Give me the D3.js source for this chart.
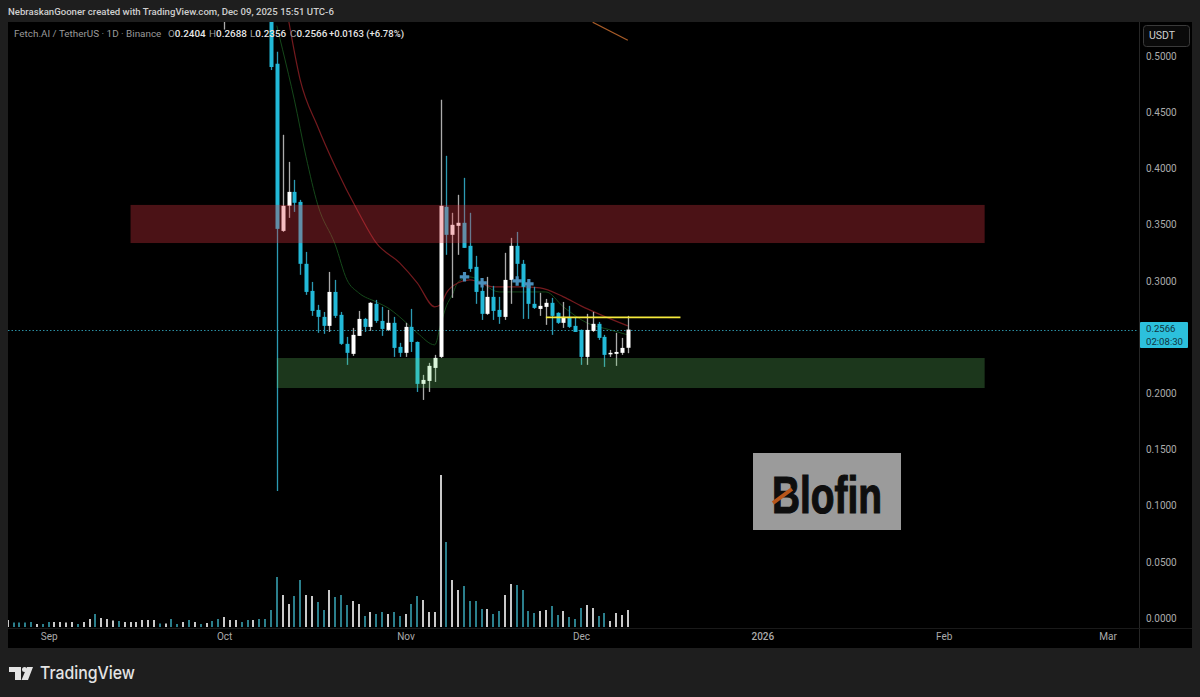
<!DOCTYPE html>
<html><head><meta charset="utf-8">
<script src="https://cdn.jsdelivr.net/npm/d3@7"></script>
<style>html,body{margin:0;padding:0;background:#1e1e1e;overflow:hidden}svg{display:block}text{font-family:Roboto,"Open Sans",sans-serif}</style>
</head><body><div id="c"></div>
<script>
// --- data ---
const firstDay = "2025-08-25";
const candleDays = [37,45,46,47,48,49,50,51,52,53,54,55,56,57,58,59,60,61,62,63,64,65,66,67,68,69,70,71,72,73,74,75,76,77,78,79,80,81,82,83,84,85,86,87,88,89,90,91,92,93,94,95,96,97,98,99,100,101,102,103,104,105,106];
const opens = [.5900,.6200,.4931,.3444,.3667,.3791,.3702,.3151,.2910,.2741,.2679,.2599,.2901,.2697,.2439,.2350,.2510,.2661,.2590,.2795,.2643,.2563,.2626,.2412,.2359,.2590,.2456,.2083,.2109,.2225,.2323,.3658,.3409,.3489,.3516,.3311,.3124,.2910,.2706,.2857,.2741,.2679,.3008,.3311,.3151,.2964,.2795,.2750,.2768,.2804,.2715,.2626,.2679,.2599,.2563,.2323,.2554,.2617,.2501,.2350,.2350,.2359,.2404];
const highs = [.6200,.6400,.5037,.4299,.4058,.3898,.3720,.3257,.2990,.2786,.2723,.3079,.3008,.2723,.2501,.2581,.2732,.2670,.2810,.2830,.2768,.2741,.2679,.2448,.2626,.2750,.2460,.2163,.2270,.2341,.4610,.4112,.3605,.3765,.3916,.3605,.3222,.3008,.3035,.2955,.2857,.3249,.3382,.3435,.3186,.3008,.2946,.2893,.2839,.2848,.2720,.2812,.2777,.2670,.2567,.2706,.2723,.2634,.2519,.2385,.2537,.2492,.2688];
const lows = [.5235,.4875,.1130,.3435,.3560,.3613,.3053,.2875,.2688,.2537,.2528,.2545,.2670,.2430,.2252,.2332,.2510,.2545,.2554,.2626,.2510,.2554,.2323,.2323,.2323,.2367,.2011,.1940,.2011,.2100,.2314,.3231,.2848,.3231,.3293,.3079,.2795,.2652,.2697,.2652,.2617,.2652,.2795,.2982,.2661,.2661,.2750,.2688,.2608,.2519,.2617,.2581,.2581,.2545,.2252,.2252,.2545,.2474,.2234,.2323,.2243,.2341,.2356];
const closes = [.6000,.4902,.3462,.3667,.3791,.3694,.3151,.2901,.2732,.2679,.2599,.2901,.2688,.2439,.2359,.2519,.2661,.2590,.2804,.2643,.2572,.2626,.2403,.2359,.2590,.2456,.2083,.2118,.2243,.2314,.3667,.3409,.3498,.3516,.3293,.3106,.2901,.2706,.2857,.2732,.2679,.3008,.3311,.3151,.2946,.2795,.2759,.2777,.2804,.2688,.2626,.2679,.2590,.2545,.2323,.2563,.2617,.2492,.2341,.2359,.2367,.2403,.2566];
const volumes = [7,4.5,4.5,4.5,5,3,3,5,5,5,4.5,5,3,5,8,13,9,8,6.5,6,5,5,5,7,7,7,3.5,3.5,8,3,5,7,5,3,4,6,8,10,7,7,5,7,7,8,8,17,50,32,23,31,47,32,31,25,17,37,30,32,22,26,23,11,15,13,15,13,15,11,13,23,31,27,15,15,152,85,47,37,41,26,26,18,18,13,16,32,43,42,37,16,14,16,17,21,12,16,10,8,19,22,19,11,14,6,14,12,17];
const volumeUp = [1,0,0,0,0,1,0,0,1,1,1,1,0,1,1,0,1,1,1,0,1,1,1,1,1,1,0,1,0,0,1,0,1,0,1,0,0,1,1,1,0,0,1,0,0,0,0,1,1,0,0,1,1,0,0,1,0,0,0,1,1,0,1,0,0,1,0,0,1,0,0,1,1,1,1,0,1,1,0,0,0,0,1,0,0,1,1,0,0,0,0,1,1,0,0,1,0,0,0,1,1,0,0,1,1,1,1];
const emaFastDays = [46,47,49,51,53,56,58,60,63,65,67,70,73,74,75,76,77,79,84,92,95,99,103,106];
const emaFast = [.5270,.5055,.4610,.4103,.3676,.3320,.3008,.2893,.2812,.2759,.2679,.2537,.2430,.2608,.2777,.2875,.2990,.3035,.2901,.2901,.2768,.2626,.2563,.2519];
const emaSlowDays = [48,50,53,56,60,63,67,70,73,74,75,77,79,83,88,91,95,98,101,106];
const emaSlow = [.5322,.4788,.4370,.4014,.3605,.3337,.3160,.2982,.2768,.2786,.2893,.2982,.3008,.2946,.2946,.2937,.2857,.2777,.2706,.2599];
const emaLongDays = [100,106];
const emaLong = [.5300,.5140];
const plusDays = [78,81,87,89];
const plusPrices = [.3035,.2982,.2999,.2973];
const resistanceZone = {from:21,to:167,top:.3675,bottom:.3336};
const supportZone = {from:46,to:167,top:.2313,bottom:.2046};
const yellowLevel = {from:92,to:115,price:.2675};
const lastPrice = .2566;
const priceTicks = [0,.05,.1,.15,.2,.3,.35,.4,.45,.5];
const timeTicks = ["2025-09-01","2025-10-01","2025-11-01","2025-12-01","2026-01-01","2026-02-01","2026-03-01"];
const timeLabels = ["Sep","Oct","Nov","Dec","2026","Feb","Mar"];
const legendParts = [["O","0.2404",168],["H","0.2688",209],["L","0.2356",250],["C","0.2566",290]];

// --- scales ---
const W=1200,H=697,L=8,R=1138,T=22,B=628;
const parse=d3.utcParse("%Y-%m-%d");
const d0=parse(firstDay);
const dayDate=i=>d3.utcDay.offset(d0,i);
const x=d3.scaleUtc().domain([d0,dayDate(106)]).range([7.7,627.8]);
const X=i=>x(dayDate(i));
const y=d3.scaleLinear().domain([0,.5]).range([618,56]);
const v=d3.scaleLinear().domain([0,152]).range([627,475]);

const svg=d3.select("#c").append("svg").attr("width",W).attr("height",H);
svg.append("rect").attr("width",W).attr("height",H).attr("fill","#1e1e1e");
svg.append("rect").attr("x",L).attr("y",T).attr("width",1192-L).attr("height",648-T).attr("fill","#000");
svg.append("line").attr("x1",R+1.5).attr("x2",R+1.5).attr("y1",T).attr("y2",648).attr("stroke","#262626");
svg.append("line").attr("x1",L).attr("x2",1192).attr("y1",B+.5).attr("y2",B+.5).attr("stroke","#1a1a1a");

const defs=svg.append("defs");
defs.append("clipPath").attr("id","pane").append("rect").attr("x",L).attr("y",T).attr("width",R-L).attr("height",B-T);
const g=svg.append("g").attr("clip-path","url(#pane)");

// volume
g.append("g").selectAll("rect").data(volumes).join("rect")
 .attr("x",(d,i)=>Math.round(X(i))-1).attr("width",2)
 .attr("y",d=>v(d)).attr("height",d=>v(0)-v(d))
 .attr("fill",(d,i)=>volumeUp[i]?"#c9c9c9":"#2b7f8c");

// moving averages
const lineFor=(days,vals,col,w)=>g.append("path")
 .attr("d",d3.line().x((d,i)=>X(days[i])).y(d=>y(d)).curve(d3.curveMonotoneX)(vals))
 .attr("fill","none").attr("stroke",col).attr("stroke-width",w);
lineFor(emaFastDays,emaFast,"#15481a",1);
lineFor(emaSlowDays,emaSlow,"#741a1e",1.2);
lineFor(emaLongDays,emaLong,"#a85c28",1.3);

// dotted last price
g.append("line").attr("x1",L).attr("x2",R).attr("y1",Math.round(y(lastPrice))+.5).attr("y2",Math.round(y(lastPrice))+.5)
 .attr("stroke","#2a8ea3").attr("stroke-dasharray","1.5 2");

// candles
const cg=g.append("g");
candleDays.forEach((day,i)=>{
 const up=closes[i]>=opens[i];
 const cx=Math.round(X(day));
 cg.append("line").attr("x1",cx+.5).attr("x2",cx+.5).attr("y1",y(highs[i])).attr("y2",y(lows[i]))
  .attr("stroke",up?"#ababab":"#2c9ab3").attr("stroke-width",1.3);
 const t=y(Math.max(opens[i],closes[i])),b=y(Math.min(opens[i],closes[i]));
 cg.append("rect").attr("x",cx-1.5).attr("width",4).attr("y",t).attr("height",Math.max(1.5,b-t))
  .attr("fill",up?"#ffffff":"#22b9d8");
});
// plus markers
g.append("g").selectAll("path").data(plusDays).join("path")
 .attr("d",d3.symbol(d3.symbolCross,50))
 .attr("transform",(d,i)=>`translate(${X(d)+.5},${y(plusPrices[i])})`)
 .attr("fill","#4a8fbb");

// zones drawn over the candles
const zone=(z,col,a)=>g.append("rect").attr("x",X(z.from)).attr("width",X(z.to)-X(z.from))
 .attr("y",y(z.top)).attr("height",y(z.bottom)-y(z.top)).attr("fill",col).attr("fill-opacity",a);
zone(resistanceZone,"#e33742",.33);
zone(supportZone,"#70dc70",.25);

// yellow level
g.append("line").attr("x1",X(yellowLevel.from)).attr("x2",X(yellowLevel.to))
 .attr("y1",y(yellowLevel.price)).attr("y2",y(yellowLevel.price)).attr("stroke","#f5ea3c").attr("stroke-width",1.6);

// Blofin watermark
const bx=svg.append("g");
bx.append("rect").attr("x",753).attr("y",453).attr("width",148).attr("height",77).attr("fill","#9b9b9b");
bx.append("text").attr("x",772).attr("y",513).attr("textLength",110).attr("lengthAdjust","spacingAndGlyphs")
 .style("font-family",'"Liberation Sans Narrow","Liberation Sans",sans-serif').style("font-weight",700)
 .attr("font-size",52).attr("fill","#0e0e0e").attr("stroke","#0e0e0e").attr("stroke-width",1.2).text("Blofin");
bx.append("line").attr("x1",773).attr("y1",503).attr("x2",792).attr("y2",489).attr("stroke","#b8561a").attr("stroke-width",4);

// price axis
const ay=svg.append("g").attr("transform",`translate(${R},0)`)
 .call(d3.axisRight(y).tickValues(priceTicks).tickFormat(d3.format(".4f")).tickSize(0).tickPadding(8));
ay.select(".domain").remove();
ay.selectAll("text").attr("fill","#ababab").attr("font-size",10).style("font-family","Roboto,sans-serif");

// time axis
const ax=svg.append("g").attr("transform",`translate(0,${B})`)
 .call(d3.axisBottom(x).tickValues(timeTicks.map(parse)).tickFormat((d,i)=>timeLabels[i]).tickSize(0).tickPadding(5));
ax.select(".domain").remove();
ax.selectAll("text").attr("fill","#ababab").attr("font-size",10).style("font-family","Roboto,sans-serif")
 .style("font-weight",(d,i)=>timeLabels[i]==="2026"?500:400);

// last price badge
svg.append("rect").attr("x",1140).attr("y",322).attr("width",48).attr("height",26).attr("rx",1).attr("fill","#2cc0dc");
svg.append("text").attr("x",1146).attr("y",332).attr("font-size",9.6).attr("fill","#10333c").text(d3.format(".4f")(lastPrice));
svg.append("text").attr("x",1146).attr("y",345).attr("font-size",9.6).attr("fill","#10333c").text("02:08:30");

// USDT button
svg.append("rect").attr("x",1143.5).attr("y",25.5).attr("width",46).attr("height",21).attr("rx",3).attr("fill","#0a0a0a").attr("stroke","#3a3a3a");
svg.append("text").attr("x",1149).attr("y",39).attr("font-size",10.5).attr("fill","#d0d0d0").text("USDT");

// header & legend
svg.append("text").attr("x",8).attr("y",15).attr("font-size",9.6).style("font-weight",500).attr("fill","#cfcfcf")
 .text("NebraskanGooner created with TradingView.com, Dec 09, 2025 15:51 UTC-6");
svg.append("text").attr("x",14).attr("y",36.5).attr("font-size",9.9).attr("fill","#9a9a9a").text("Fetch.AI / TetherUS · 1D · Binance");
legendParts.forEach(p=>{
 const t=svg.append("text").attr("x",p[2]).attr("y",36.5).attr("font-size",9.9);
 t.append("tspan").attr("fill","#9a9a9a").text(p[0]);
 t.append("tspan").attr("fill","#e6e6e6").style("font-weight",500).text(p[1]);
});
svg.append("text").attr("x",329).attr("y",36.5).attr("font-size",9.5).attr("fill","#e6e6e6").style("font-weight",500).text("+0.0163 (+6.78%)");

// TradingView logo
const lo=svg.append("g").attr("fill","#e4e4e4");
const lp=d3.path();
lp.moveTo(9,667);lp.lineTo(21,667);lp.lineTo(21,680);lp.lineTo(15,680);lp.lineTo(15,672);lp.lineTo(9,672);lp.closePath();
lp.moveTo(27,667);lp.lineTo(33,667);lp.lineTo(28,680);lp.lineTo(21.5,680);lp.closePath();
lo.append("path").attr("d",lp.toString());
lo.append("circle").attr("cx",24.5).attr("cy",669.5).attr("r",2.5);
svg.append("text").attr("x",40).attr("y",679).attr("font-size",17.5).style("font-family","Inter,Roboto,sans-serif").style("font-weight",500)
 .attr("fill","#e4e4e4").attr("textLength",95).attr("lengthAdjust","spacingAndGlyphs").text("TradingView");
</script></body></html>
